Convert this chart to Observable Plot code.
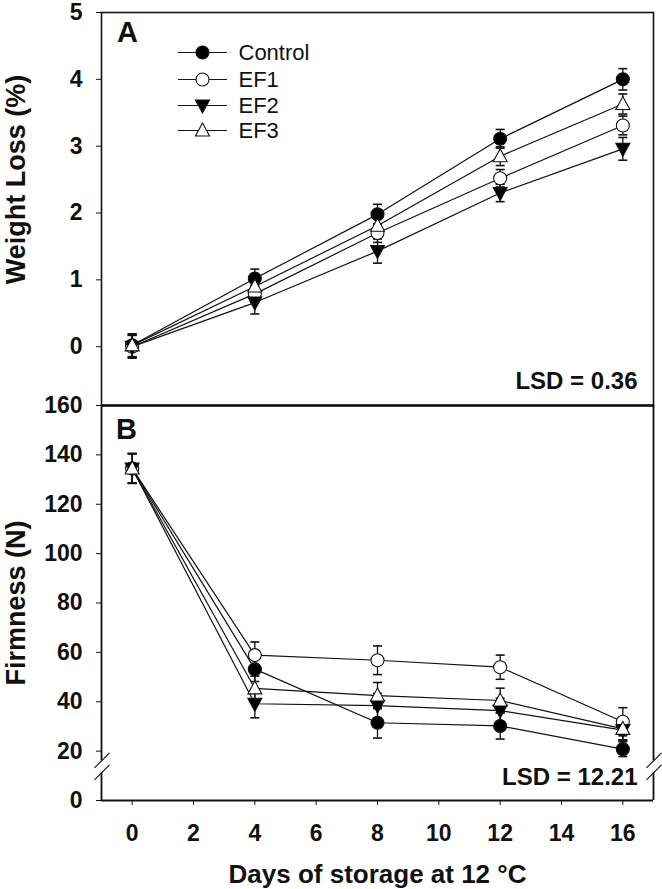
<!DOCTYPE html>
<html><head><meta charset="utf-8">
<script src="https://cdn.jsdelivr.net/npm/d3@7"></script>
<script src="https://cdn.jsdelivr.net/npm/@observablehq/plot@0.6"></script>
<style>
html,body{margin:0;padding:0;background:#fff;overflow:hidden;}
#chart{position:relative;width:662px;height:889px;}
#chart svg{position:absolute;left:0;top:0;}
</style></head><body><div id="chart"></div>
<script>
// ---------- data ----------
const days = [0, 4, 8, 12, 16];
const seriesNames = ["Control", "EF1", "EF2", "EF3"];

// Panel A: Weight loss (%)
const weightControl = [0.02, 1.02, 1.98, 3.11, 4.00];
const weightEF1     = [0.00, 0.79, 1.70, 2.52, 3.31];
const weightEF2     = [0.00, 0.66, 1.43, 2.30, 2.96];
const weightEF3     = [0.02, 0.90, 1.81, 2.85, 3.63];
const weightErrControl = [0.17, 0.14, 0.15, 0.14, 0.16];
const weightErrEF1     = [0.17, 0.13, 0.14, 0.13, 0.14];
const weightErrEF2     = [0.17, 0.17, 0.18, 0.13, 0.17];
const weightErrEF3     = [0.17, 0.14, 0.13, 0.14, 0.15];

// Panel B: Firmness (N)
const firmControl = [134.5, 53.2, 31.5, 30.2, 20.8];
const firmEF1     = [134.5, 58.9, 56.8, 54.0, 31.9];
const firmEF2     = [134.5, 39.2, 38.4, 36.4, 28.5];
const firmEF3     = [134.5, 45.4, 42.5, 40.5, 29.0];
const firmErrControl = [6.0, 5.0, 6.2, 5.3, 3.0];
const firmErrEF1     = [6.0, 5.3, 5.8, 4.9, 5.7];
const firmErrEF2     = [6.0, 5.7, 5.0, 5.0, 4.0];
const firmErrEF3     = [6.0, 5.0, 5.3, 5.0, 4.5];

const weightTicks = [0, 1, 2, 3, 4, 5];
const firmTicks = [0, 20, 40, 60, 80, 100, 120, 140, 160];
const dayTicks = [0, 2, 4, 6, 8, 10, 12, 14, 16];

const lsdA = "LSD = 0.36";
const lsdB = "LSD = 12.21";
const titleA = "Weight Loss (%)";
const titleB = "Firmness (N)";
const titleX = "Days of storage at 12 °C";

// ---------- build tables ----------
const weightSeries = [weightControl, weightEF1, weightEF2, weightEF3];
const weightErrs = [weightErrControl, weightErrEF1, weightErrEF2, weightErrEF3];
const firmSeries = [firmControl, firmEF1, firmEF2, firmEF3];
const firmErrs = [firmErrControl, firmErrEF1, firmErrEF2, firmErrEF3];

function table(series, errs) {
  return seriesNames.map((name, s) => days.map((d, i) => ({
    series: name, day: d, value: series[s][i], lo: series[s][i] - errs[s][i], hi: series[s][i] + errs[s][i]
  })));
}
const weightData = table(weightSeries, weightErrs);
const firmData = table(firmSeries, firmErrs);

// ---------- symbols ----------
const triUp = {draw(ctx) { ctx.moveTo(0, -7.5); ctx.lineTo(7, 5.5); ctx.lineTo(-7, 5.5); ctx.closePath(); }};
const triDown = {draw(ctx) { ctx.moveTo(0, 7.5); ctx.lineTo(7, -5.5); ctx.lineTo(-7, -5.5); ctx.closePath(); }};
const capSym = {draw(ctx) { ctx.moveTo(-4.5, 0); ctx.lineTo(4.5, 0); }};
const legLine = {draw(ctx) { ctx.moveTo(-24.5, 0); ctx.lineTo(24.5, 0); }};
const breakSym = {draw(ctx) { ctx.moveTo(-7, 2); ctx.lineTo(8, -13); ctx.moveTo(-7, 14); ctx.lineTo(8, -1); }};

const styles = [
  {symbol: "circle", fill: "black"},
  {symbol: "circle", fill: "white"},
  {symbol: triDown, fill: "black"},
  {symbol: triUp, fill: "white"}
];

const INK = "#111";
const FONT = "Arial, 'Liberation Sans', sans-serif";
const fmt = d => String(d);

function seriesMarks(data) {
  const marks = [];
  data.forEach(rows => marks.push(Plot.line(rows, {x: "day", y: "value", stroke: INK, strokeWidth: 1.2})));
  data.forEach(rows => {
    marks.push(Plot.ruleX(rows, {x: "day", y1: "lo", y2: "hi", stroke: INK, strokeWidth: 1.3}));
    marks.push(Plot.dot(rows, {x: "day", y: "lo", symbol: capSym, stroke: INK, strokeWidth: 1.6}));
    marks.push(Plot.dot(rows, {x: "day", y: "hi", symbol: capSym, stroke: INK, strokeWidth: 1.6}));
  });
  data.forEach((rows, s) => marks.push(Plot.dot(rows, {
    x: "day", y: "value", symbol: styles[s].symbol, r: 6.5, fill: styles[s].fill, stroke: INK, strokeWidth: 1.1
  })));
  return marks;
}

const xDomain = [-1, 17];
const baseStyle = {fontFamily: FONT, fontSize: "23px", fontWeight: "bold", background: "transparent", color: INK, overflow: "visible"};

// ---------- Panel A ----------
const yMinA = -0.88;
const legendRowsDy = [40, 67, 93, 118];
const legendMarks = [];
seriesNames.forEach((name, s) => {
  legendMarks.push(Plot.dot([name], {frameAnchor: "top-left", dx: 101, dy: legendRowsDy[s], symbol: legLine, stroke: INK, strokeWidth: 1.2}));
  legendMarks.push(Plot.dot([name], {frameAnchor: "top-left", dx: 101, dy: legendRowsDy[s], symbol: styles[s].symbol, r: 6.5, fill: styles[s].fill, stroke: INK, strokeWidth: 1.1}));
  legendMarks.push(Plot.text([name], {frameAnchor: "top-left", dx: 137, dy: legendRowsDy[s], text: d => d, textAnchor: "start", lineAnchor: "middle", fontSize: 22, fontWeight: "normal"}));
});

const plotA = Plot.plot({
  width: 662, height: 889,
  marginLeft: 101, marginRight: 9, marginTop: 12, marginBottom: 484,
  style: baseStyle,
  x: {domain: xDomain, axis: null},
  y: {domain: [yMinA, 5], ticks: weightTicks, tickSize: 5, tickPadding: 14, tickFormat: fmt, label: null},
  marks: [
    Plot.frame({stroke: INK, strokeWidth: 1.6}),
    ...seriesMarks(weightData),
    ...legendMarks,
    Plot.text(["A"], {frameAnchor: "top-left", dx: 26, dy: 20, text: d => d, fontSize: 29, fontWeight: "bold", textAnchor: "middle", lineAnchor: "middle"}),
    Plot.text([lsdA], {frameAnchor: "bottom-right", dx: -16, dy: -24, text: d => d, fontSize: 24, fontWeight: "bold", textAnchor: "end", lineAnchor: "middle"}),
    Plot.text([titleA], {y: 2.5, frameAnchor: "left", dx: -85, rotate: -90, text: d => d, fontSize: 27, fontWeight: "bold", textAnchor: "middle", lineAnchor: "middle"})
  ]
});

// ---------- Panel B ----------
const breakMid = 14, breakLow = 11.2, breakHigh = 16.0;
const plotB = Plot.plot({
  width: 662, height: 889,
  marginLeft: 101, marginRight: 9, marginTop: 405, marginBottom: 89,
  style: baseStyle,
  x: {domain: xDomain, ticks: dayTicks, tickSize: 5, tickPadding: 19, tickFormat: fmt, label: null},
  y: {domain: [0, 160], ticks: firmTicks, tickSize: 5, tickPadding: 14, tickFormat: fmt, label: null},
  marks: [
    Plot.ruleY([160], {stroke: INK, strokeWidth: 2.6}),
    Plot.ruleY([0], {stroke: INK, strokeWidth: 2}),
    Plot.ruleX([xDomain[0], xDomain[1]], {y1: 0, y2: breakLow, stroke: INK, strokeWidth: 1.8}),
    Plot.ruleX([xDomain[0], xDomain[1]], {y1: breakHigh, y2: 160, stroke: INK, strokeWidth: 1.8}),
    Plot.dot([xDomain[0], xDomain[1]], {x: d => d, y: breakMid, symbol: breakSym, stroke: INK, strokeWidth: 1.1}),
    ...seriesMarks(firmData),
    Plot.text(["B"], {frameAnchor: "top-left", dx: 25, dy: 24, text: d => d, fontSize: 29, fontWeight: "bold", textAnchor: "middle", lineAnchor: "middle"}),
    Plot.text([lsdB], {frameAnchor: "bottom-right", dx: -16, dy: -23, text: d => d, fontSize: 24, fontWeight: "bold", textAnchor: "end", lineAnchor: "middle"}),
    Plot.text([titleB], {y: 80, frameAnchor: "left", dx: -85, rotate: -90, text: d => d, fontSize: 27, fontWeight: "bold", textAnchor: "middle", lineAnchor: "middle"}),
    Plot.text([titleX], {x: 8, frameAnchor: "bottom", dy: 74, text: d => d, fontSize: 26, fontWeight: "bold", textAnchor: "middle", lineAnchor: "middle"})
  ]
});

const chart = document.getElementById("chart");
chart.appendChild(plotB);
chart.appendChild(plotA);
</script></body></html>
